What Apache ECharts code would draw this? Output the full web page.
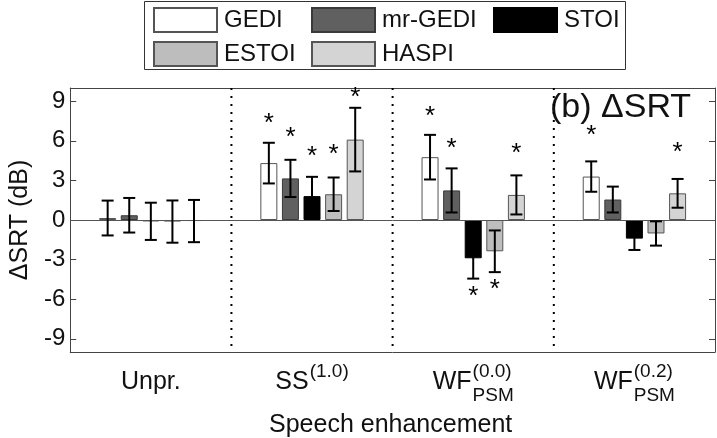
<!DOCTYPE html>
<html><head><meta charset="utf-8">
<script src="https://cdn.jsdelivr.net/npm/echarts@6/dist/echarts.min.js"></script>
<style>html,body{margin:0;padding:0;background:#fff}#c{width:717px;height:438px}</style>
</head><body><div id="c"></div>
<script>
// ---- data ----
const categories = ['Unpr.', 'SS(1.0)', 'WF_PSM(0.0)', 'WF_PSM(0.2)'];
const catBase = ['Unpr.', 'SS', 'WF', 'WF'];
const catSup = ['', '(1.0)', '(0.0)', '(0.2)'];
const catSub = ['', '', 'PSM', 'PSM'];
const seriesNames = ['GEDI', 'mr-GEDI', 'STOI', 'ESTOI', 'HASPI'];
const GEDI = [0.15, 4.31, 4.76, 3.29];
const mrGEDI = [0.36, 3.15, 2.24, 1.55];
const STOI = [-0.10, 1.81, -2.90, -1.41];
const ESTOI = [-0.12, 1.95, -2.37, -1.02];
const HASPI = [-0.08, 6.09, 1.90, 2.02];
const GEDI_err = [1.32, 1.54, 1.69, 1.15];
const mrGEDI_err = [1.31, 1.41, 1.67, 0.98];
const STOI_err = [1.41, 1.46, 1.54, 0.86];
const ESTOI_err = [1.60, 1.27, 1.58, 0.92];
const HASPI_err = [1.60, 2.41, 1.48, 1.09];
// heights of significance asterisks (dB), null = none
const GEDI_star = [null, 7.70, 8.17, 6.78];
const mrGEDI_star = [null, 6.60, 5.75, null];
const STOI_star = [null, 5.20, -5.42, null];
const ESTOI_star = [null, 5.35, -4.90, null];
const HASPI_star = [null, 9.60, 5.37, 5.45];
const yTicks = [-9, -6, -3, 0, 3, 6, 9];
const yMin = -10, yMax = 10;
const yName = 'ΔSRT (dB)';
const xName = 'Speech enhancement';
const panelTitle = '(b) ΔSRT';

// ---- style ----
const means = [GEDI, mrGEDI, STOI, ESTOI, HASPI];
const errs = [GEDI_err, mrGEDI_err, STOI_err, ESTOI_err, HASPI_err];
const stars = [GEDI_star, mrGEDI_star, STOI_star, ESTOI_star, HASPI_star];
const fills = ['#ffffff', '#606060', '#000000', '#bdbdbd', '#d4d4d4'];
const borders = ['#555555', '#3a3a3a', '#000000', '#555555', '#555555'];
const FONT = '"Liberation Sans", Arial, Helvetica, sans-serif';
const BW = 17, GAP = 0.27, STEP = BW * (1 + GAP);
const AX = '#444';

const chart = echarts.init(document.getElementById('c'));

const barSeries = seriesNames.map((n, i) => ({
  name: n, type: 'bar', data: means[i], barWidth: BW, barGap: (GAP * 100) + '%',
  itemStyle: { color: fills[i], borderColor: borders[i], borderWidth: 1 },
  z: 2, silent: true,
  markLine: i === 0 ? { silent: true, symbol: ['none', 'none'], label: { show: false },
    lineStyle: { color: '#555', type: 'solid', width: 1 }, data: [{ yAxis: 0 }] } : undefined
}));

const errData = [];
const starData = [];
means.forEach((arr, s) => arr.forEach((m, c) => {
  errData.push([c, s, m, errs[s][c]]);
  if (stars[s][c] != null) starData.push([c, s, stars[s][c]]);
}));

const errSeries = {
  type: 'custom', z: 5, silent: true, data: errData, encode: { x: 0, y: 2 },
  renderItem(params, api) {
    const c = api.value(0), s = api.value(1), m = api.value(2), e = api.value(3);
    const x = api.coord([c, m])[0] + (s - 2) * STEP;
    const yt = api.coord([c, m + e])[1], yb = api.coord([c, m - e])[1];
    const st = { stroke: '#000', lineWidth: 2 };
    return { type: 'group', children: [
      { type: 'line', shape: { x1: x, y1: yt, x2: x, y2: yb }, style: st },
      { type: 'line', shape: { x1: x - 6, y1: yt, x2: x + 6, y2: yt }, style: st },
      { type: 'line', shape: { x1: x - 6, y1: yb, x2: x + 6, y2: yb }, style: st }
    ]};
  }
};

const starSeries = {
  type: 'custom', z: 6, silent: true, data: starData, encode: { x: 0, y: 2 },
  renderItem(params, api) {
    const c = api.value(0), s = api.value(1), y = api.value(2);
    const p = api.coord([c, y]);
    return { type: 'text', x: p[0] + (s - 2) * STEP, y: p[1] + 5,
      style: { text: '*', fill: '#000', font: '26px ' + FONT, align: 'center', verticalAlign: 'middle' } };
  }
};

const sepSeries = {
  type: 'custom', z: 3, silent: true, data: [[0, 0], [1, 0], [2, 0]], encode: { x: 0, y: 1 },
  renderItem(params, api) {
    const c = api.value(0);
    const x = api.coord([c, 0])[0] + api.size([1, 0])[0] / 2;
    const cs = params.coordSys;
    return { type: 'line', shape: { x1: x, y1: cs.y, x2: x, y2: cs.y + cs.height },
      style: { stroke: '#000', lineWidth: 2, lineDash: [2, 6] } };
  }
};

const legendCols = [[seriesNames[0], seriesNames[3]], [seriesNames[1], seriesNames[4]], [seriesNames[2]]];
const legendLeft = [153, 311, 493];
const legends = legendCols.map((d, i) => ({
  data: d, orient: 'vertical', left: legendLeft[i], top: 7, padding: 0, itemWidth: 63, itemHeight: 24, itemGap: 8,
  icon: 'rect', selectedMode: false,
  textStyle: { fontFamily: FONT, fontSize: 24, color: '#111', padding: [0, 0, 0, 2] }
}));

const axisCommon = { onZero: false, lineStyle: { color: AX, width: 1 } };

chart.setOption({
  animation: false,
  backgroundColor: '#fff',
  grid: { left: 57, right: 2, top: 88, bottom: 86 },
  legend: legends,
  xAxis: [
    { type: 'category', data: categories, boundaryGap: true,
      axisLine: axisCommon, axisTick: { inside: true, alignWithLabel: true, length: 6, lineStyle: { color: AX } },
      axisLabel: { show: false }, splitLine: { show: false } },
    { type: 'category', data: categories, position: 'top', boundaryGap: true,
      axisLine: axisCommon, axisTick: { inside: true, alignWithLabel: true, length: 6, lineStyle: { color: AX } },
      axisLabel: { show: false }, splitLine: { show: false } }
  ],
  yAxis: [
    { type: 'value', min: yMin, max: yMax,
      name: yName, nameLocation: 'middle', nameRotate: 90, nameGap: 28,
      nameTextStyle: { fontFamily: FONT, fontSize: 25, color: '#111' },
      axisLine: { show: true, onZero: false, lineStyle: { color: AX } },
      axisTick: { show: true, inside: true, length: 6, customValues: yTicks, lineStyle: { color: AX } },
      axisLabel: { customValues: yTicks, fontFamily: FONT, fontSize: 24, color: '#111', margin: 5 },
      splitLine: { show: false } },
    { type: 'value', min: yMin, max: yMax, position: 'right',
      axisLine: { show: true, onZero: false, lineStyle: { color: AX } },
      axisTick: { show: true, inside: true, length: 6, customValues: yTicks, lineStyle: { color: AX } },
      axisLabel: { show: false }, splitLine: { show: false } }
  ],
  series: [...barSeries, errSeries, starSeries, sepSeries]
});

// ---- text placed from the chart's own scales ----
const mctx = document.createElement('canvas').getContext('2d');
function tw(t, fs) { mctx.font = fs + 'px ' + FONT; return mctx.measureText(t).width; }
const grid = chart.getModel().getComponent('grid').coordinateSystem.getRect();
const gfx = [];
gfx.push({ type: 'rect', z: -1, shape: { x: 144.5, y: 1.5, width: 481, height: 68 },
  style: { fill: '#fff', stroke: '#333', lineWidth: 1 } });
const BASE_FS = 25, SUP_FS = 19;
const baseY = grid.y + grid.height + 38; // baseline
categories.forEach((cName, c) => {
  const cx = chart.convertToPixel({ xAxisIndex: 0 }, c);
  const wB = tw(catBase[c], BASE_FS);
  const wX = Math.max(tw(catSup[c], SUP_FS), tw(catSub[c], SUP_FS));
  const total = wB + (wX ? wX + 1 : 0);
  const left = cx - total / 2;
  gfx.push({ type: 'text', x: left, y: baseY - 0.33 * BASE_FS,
    style: { text: catBase[c], font: BASE_FS + 'px ' + FONT, fill: '#111', align: 'left', verticalAlign: 'middle' } });
  if (catSup[c]) gfx.push({ type: 'text', x: left + wB + 1, y: baseY - 12 - 0.33 * SUP_FS,
    style: { text: catSup[c], font: SUP_FS + 'px ' + FONT, fill: '#111', align: 'left', verticalAlign: 'middle' } });
  if (catSub[c]) gfx.push({ type: 'text', x: left + wB + 1, y: baseY + 12 - 0.33 * SUP_FS,
    style: { text: catSub[c], font: SUP_FS + 'px ' + FONT, fill: '#111', align: 'left', verticalAlign: 'middle' } });
});
gfx.push({ type: 'text', x: grid.x + grid.width / 2 - 2, y: grid.y + grid.height + 81 - 0.33 * BASE_FS,
  style: { text: xName, font: BASE_FS + 'px ' + FONT, fill: '#111', align: 'center', verticalAlign: 'middle' } });
gfx.push({ type: 'text', x: grid.x + grid.width - 165 + 0, y: grid.y + 31 - 0.33 * 34,
  style: { text: panelTitle, font: '34px ' + FONT, fill: '#111', align: 'left', verticalAlign: 'middle' } });
chart.setOption({ graphic: gfx });
</script></body></html>
